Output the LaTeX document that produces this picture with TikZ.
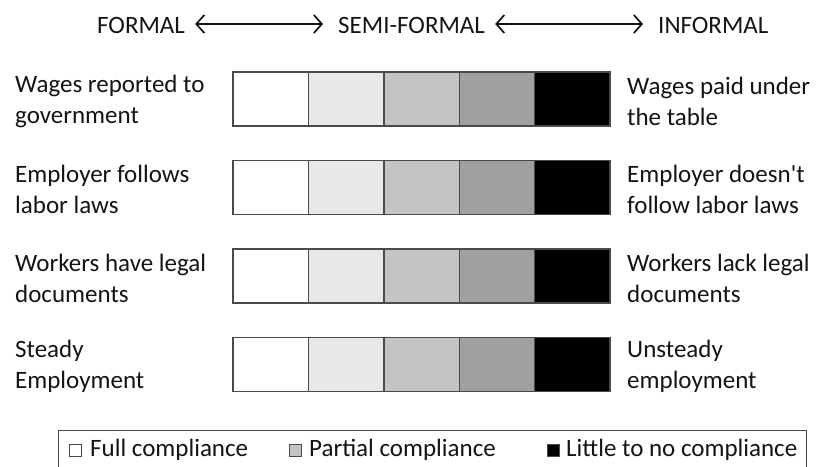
\documentclass[tikz,border=0pt]{standalone}
\usepackage{fontspec}
\setmainfont{Carlito}
\usetikzlibrary{arrows.meta}
\definecolor{edgegray}{HTML}{4A4A4A}
\definecolor{shadeA}{HTML}{E8E8E8}
\definecolor{shadeB}{HTML}{C4C4C4}
\definecolor{shadeC}{HTML}{A0A0A0}
\definecolor{inkgray}{HTML}{141414}
\tikzset{
  label text/.style={inner sep=0pt, anchor=west, align=left, text=inkgray,
    font=\fontsize{25}{31}\selectfont},
  cell/.style={draw=edgegray, line width=1.4pt, minimum width=75.4pt,
    minimum height=54pt, inner sep=0pt, outer sep=0pt},
  range arrow/.style={line width=1.7pt, inkgray,
    {Straight Barb[length=8pt,width=18pt,line width=1.7pt]}-{Straight Barb[length=8pt,width=18pt,line width=1.7pt]}},
  key box/.style={draw=edgegray, line width=0.9pt, minimum size=12pt, inner sep=0pt}
}
\begin{document}
\begin{tikzpicture}[x=1pt,y=-1pt]
  \useasboundingbox (0,0) rectangle (816,466);
  % header
  \node[label text] (formal) at (97,25) {FORMAL};
  \node[label text] (semi) at (338,25) {SEMI-FORMAL};
  \node[label text] (informal) at (658,25) {INFORMAL};
  \draw[range arrow] ([xshift=10pt,yshift=1pt]formal.east) -- ([xshift=-15pt,yshift=1pt]semi.west);
  \draw[range arrow] ([xshift=10pt,yshift=1pt]semi.east) -- ([xshift=-15pt,yshift=1pt]informal.west);
  % rows of shaded cells
  \foreach \r/\ym/\lt/\rt in {1/99/{Wages reported to\\government}/{Wages paid under\\the table},
      2/187.5/{Employer follows\\labor laws}/{Employer doesn\textquotesingle t\\follow labor laws},
      3/276/{Workers have legal\\documents}/{Workers lack legal\\documents},
      4/364.5/{Steady\\Employment}/{Unsteady\\employment}} {
    \foreach \k/\shade in {1/white,2/shadeA,3/shadeB,4/shadeC,5/black}
      \node[cell, fill=\shade] (c-\r-\k) at ({233+75.4*(\k-0.5)},\ym) {};
    \node[label text] (left-\r) at (15,\ym+2) {\lt};
    \node[label text] (right-\r) at (627,\ym+2) {\rt};
  }
  % legend
  \draw[edgegray, line width=0.9pt] (58,470) -- (58,430) -- (806,430) -- (806,470);
  \node[key box, fill=white] (key-full) at (75,450) {};
  \node[label text, anchor=west] (txt-full) at (90,450) {Full compliance};
  \node[key box, fill=shadeB] (key-part) at (295,450) {};
  \node[label text, anchor=west] (txt-part) at (309,450) {Partial compliance};
  \node[key box, fill=black] (key-none) at (553,450) {};
  \node[label text, anchor=west] (txt-none) at (566,450) {Little to no compliance};
\end{tikzpicture}
\end{document}
